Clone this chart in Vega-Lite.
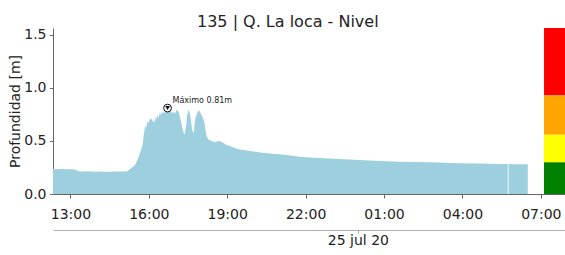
{
  "$schema": "https://vega.github.io/schema/vega-lite/v6.json",
  "autosize": {"type": "none"},
  "padding": {"left": 53, "top": 28, "right": 0, "bottom": 61},
  "width": 512,
  "height": 166,
  "config": {
    "font": "DejaVu Sans",
    "view": {"stroke": null},
    "locale": {
      "time": {
        "dateTime": "%A, %e de %B de %Y, %X",
        "date": "%d/%m/%Y",
        "time": "%H:%M:%S",
        "periods": ["AM", "PM"],
        "days": ["domingo", "lunes", "martes", "miércoles", "jueves", "viernes", "sábado"],
        "shortDays": ["dom", "lun", "mar", "mié", "jue", "vie", "sáb"],
        "months": ["enero", "febrero", "marzo", "abril", "mayo", "junio", "julio", "agosto", "septiembre", "octubre", "noviembre", "diciembre"],
        "shortMonths": ["ene", "feb", "mar", "abr", "may", "jun", "jul", "ago", "sep", "oct", "nov", "dic"]
      }
    },
    "axis": {
      "grid": false,
      "domainColor": "#666666",
      "tickColor": "#666666",
      "labelColor": "#222222",
      "titleColor": "#222222",
      "labelFont": "DejaVu Sans",
      "titleFont": "DejaVu Sans",
      "labelFontSize": 14,
      "titleFontSize": 14,
      "titleFontWeight": "normal"
    }
  },
  "datasets": {
    "nivel": [
      {"t": "2020-07-24T12:20", "v": 0.235},
      {"t": "2020-07-24T12:30", "v": 0.234},
      {"t": "2020-07-24T12:40", "v": 0.236},
      {"t": "2020-07-24T12:50", "v": 0.233},
      {"t": "2020-07-24T13:00", "v": 0.234},
      {"t": "2020-07-24T13:10", "v": 0.230},
      {"t": "2020-07-24T13:15", "v": 0.222},
      {"t": "2020-07-24T13:20", "v": 0.214},
      {"t": "2020-07-24T13:30", "v": 0.212},
      {"t": "2020-07-24T13:40", "v": 0.215},
      {"t": "2020-07-24T13:50", "v": 0.213},
      {"t": "2020-07-24T14:00", "v": 0.210},
      {"t": "2020-07-24T14:10", "v": 0.211},
      {"t": "2020-07-24T14:20", "v": 0.209},
      {"t": "2020-07-24T14:30", "v": 0.210},
      {"t": "2020-07-24T14:40", "v": 0.212},
      {"t": "2020-07-24T14:50", "v": 0.211},
      {"t": "2020-07-24T15:00", "v": 0.213},
      {"t": "2020-07-24T15:05", "v": 0.212},
      {"t": "2020-07-24T15:10", "v": 0.215},
      {"t": "2020-07-24T15:15", "v": 0.228},
      {"t": "2020-07-24T15:20", "v": 0.245},
      {"t": "2020-07-24T15:25", "v": 0.262},
      {"t": "2020-07-24T15:30", "v": 0.285},
      {"t": "2020-07-24T15:35", "v": 0.33},
      {"t": "2020-07-24T15:38", "v": 0.37},
      {"t": "2020-07-24T15:41", "v": 0.40},
      {"t": "2020-07-24T15:44", "v": 0.44},
      {"t": "2020-07-24T15:46", "v": 0.47},
      {"t": "2020-07-24T15:48", "v": 0.55},
      {"t": "2020-07-24T15:50", "v": 0.60},
      {"t": "2020-07-24T15:52", "v": 0.64},
      {"t": "2020-07-24T15:54", "v": 0.62},
      {"t": "2020-07-24T15:56", "v": 0.67},
      {"t": "2020-07-24T15:58", "v": 0.69},
      {"t": "2020-07-24T16:00", "v": 0.66},
      {"t": "2020-07-24T16:02", "v": 0.71},
      {"t": "2020-07-24T16:04", "v": 0.70},
      {"t": "2020-07-24T16:06", "v": 0.72},
      {"t": "2020-07-24T16:08", "v": 0.68},
      {"t": "2020-07-24T16:10", "v": 0.70},
      {"t": "2020-07-24T16:12", "v": 0.67},
      {"t": "2020-07-24T16:14", "v": 0.69},
      {"t": "2020-07-24T16:16", "v": 0.73},
      {"t": "2020-07-24T16:18", "v": 0.71},
      {"t": "2020-07-24T16:20", "v": 0.74},
      {"t": "2020-07-24T16:22", "v": 0.72},
      {"t": "2020-07-24T16:24", "v": 0.76},
      {"t": "2020-07-24T16:26", "v": 0.74},
      {"t": "2020-07-24T16:28", "v": 0.77},
      {"t": "2020-07-24T16:30", "v": 0.75},
      {"t": "2020-07-24T16:32", "v": 0.78},
      {"t": "2020-07-24T16:35", "v": 0.76},
      {"t": "2020-07-24T16:38", "v": 0.79},
      {"t": "2020-07-24T16:40", "v": 0.77},
      {"t": "2020-07-24T16:43", "v": 0.81},
      {"t": "2020-07-24T16:46", "v": 0.78},
      {"t": "2020-07-24T16:49", "v": 0.79},
      {"t": "2020-07-24T16:52", "v": 0.76},
      {"t": "2020-07-24T16:55", "v": 0.78},
      {"t": "2020-07-24T16:58", "v": 0.76},
      {"t": "2020-07-24T17:01", "v": 0.77},
      {"t": "2020-07-24T17:04", "v": 0.79},
      {"t": "2020-07-24T17:07", "v": 0.785},
      {"t": "2020-07-24T17:10", "v": 0.75},
      {"t": "2020-07-24T17:13", "v": 0.70},
      {"t": "2020-07-24T17:16", "v": 0.64},
      {"t": "2020-07-24T17:19", "v": 0.59},
      {"t": "2020-07-24T17:22", "v": 0.56},
      {"t": "2020-07-24T17:24", "v": 0.60},
      {"t": "2020-07-24T17:26", "v": 0.66},
      {"t": "2020-07-24T17:28", "v": 0.74},
      {"t": "2020-07-24T17:31", "v": 0.79},
      {"t": "2020-07-24T17:33", "v": 0.78},
      {"t": "2020-07-24T17:36", "v": 0.72},
      {"t": "2020-07-24T17:38", "v": 0.65},
      {"t": "2020-07-24T17:40", "v": 0.60},
      {"t": "2020-07-24T17:43", "v": 0.575},
      {"t": "2020-07-24T17:45", "v": 0.65},
      {"t": "2020-07-24T17:47", "v": 0.72},
      {"t": "2020-07-24T17:50", "v": 0.75},
      {"t": "2020-07-24T17:53", "v": 0.78},
      {"t": "2020-07-24T17:56", "v": 0.785},
      {"t": "2020-07-24T17:59", "v": 0.76},
      {"t": "2020-07-24T18:02", "v": 0.74},
      {"t": "2020-07-24T18:05", "v": 0.71},
      {"t": "2020-07-24T18:08", "v": 0.67},
      {"t": "2020-07-24T18:10", "v": 0.60},
      {"t": "2020-07-24T18:13", "v": 0.54},
      {"t": "2020-07-24T18:16", "v": 0.52},
      {"t": "2020-07-24T18:19", "v": 0.51},
      {"t": "2020-07-24T18:25", "v": 0.50},
      {"t": "2020-07-24T18:31", "v": 0.49},
      {"t": "2020-07-24T18:37", "v": 0.495},
      {"t": "2020-07-24T18:42", "v": 0.50},
      {"t": "2020-07-24T18:48", "v": 0.49},
      {"t": "2020-07-24T18:53", "v": 0.475},
      {"t": "2020-07-24T18:58", "v": 0.462},
      {"t": "2020-07-24T19:05", "v": 0.455},
      {"t": "2020-07-24T19:20", "v": 0.43},
      {"t": "2020-07-24T19:30", "v": 0.42},
      {"t": "2020-07-24T19:45", "v": 0.41},
      {"t": "2020-07-24T20:00", "v": 0.40},
      {"t": "2020-07-24T20:20", "v": 0.39},
      {"t": "2020-07-24T20:45", "v": 0.38},
      {"t": "2020-07-24T21:00", "v": 0.375},
      {"t": "2020-07-24T21:20", "v": 0.365},
      {"t": "2020-07-24T21:46", "v": 0.352},
      {"t": "2020-07-24T22:10", "v": 0.345},
      {"t": "2020-07-24T22:32", "v": 0.34},
      {"t": "2020-07-24T23:15", "v": 0.33},
      {"t": "2020-07-25T00:04", "v": 0.32},
      {"t": "2020-07-25T00:50", "v": 0.312},
      {"t": "2020-07-25T01:36", "v": 0.305},
      {"t": "2020-07-25T02:10", "v": 0.302},
      {"t": "2020-07-25T02:45", "v": 0.30},
      {"t": "2020-07-25T03:20", "v": 0.295},
      {"t": "2020-07-25T03:54", "v": 0.29},
      {"t": "2020-07-25T04:40", "v": 0.287},
      {"t": "2020-07-25T05:26", "v": 0.283},
      {"t": "2020-07-25T05:44", "v": 0.282},
      {"t": "2020-07-25T05:45", "v": null},
      {"t": "2020-07-25T05:46", "v": 0.282},
      {"t": "2020-07-25T06:00", "v": 0.281},
      {"t": "2020-07-25T06:15", "v": 0.280},
      {"t": "2020-07-25T06:30", "v": 0.281}
    ],
    "maximo": [
      {"t": "2020-07-24T16:43", "v": 0.81, "etiqueta": "Máximo 0.81m"}
    ],
    "umbrales": [
      {"desde": "2020-07-25T07:07:20", "hasta": "2020-07-25T07:55:30", "lo": 0, "hi": 0.3, "c": "#008000"},
      {"desde": "2020-07-25T07:07:20", "hasta": "2020-07-25T07:55:30", "lo": 0.3, "hi": 0.56, "c": "#ffff00"},
      {"desde": "2020-07-25T07:07:20", "hasta": "2020-07-25T07:55:30", "lo": 0.56, "hi": 0.93, "c": "#ffa500"},
      {"desde": "2020-07-25T07:07:20", "hasta": "2020-07-25T07:55:30", "lo": 0.93, "hi": 1.565, "c": "#ff0000"}
    ]
  },
  "title": {
    "text": "135 | Q. La loca - Nivel",
    "fontSize": 16,
    "fontWeight": "normal",
    "color": "#222222",
    "anchor": "start",
    "frame": "group",
    "baseline": "alphabetic",
    "offset": 3,
    "dx": 144,
    "dy": 18
  },
  "resolve": {"axis": {"x": "independent"}},
  "layer": [
    {
      "data": {"name": "nivel"},
      "mark": {"type": "area", "color": "#9dcfdf", "invalid": "break-paths-show-domains"},
      "encoding": {
        "x": {
          "field": "t",
          "type": "temporal",
          "scale": {"domain": [
            {"year": 2020, "month": 7, "date": 24, "hours": 12, "minutes": 20},
            {"year": 2020, "month": 7, "date": 25, "hours": 7, "minutes": 55, "seconds": 30}
          ]},
          "axis": {
            "title": null,
            "orient": "bottom",
            "format": "%H:%M",
            "values": [
              {"year": 2020, "month": 7, "date": 24, "hours": 13},
              {"year": 2020, "month": 7, "date": 24, "hours": 16},
              {"year": 2020, "month": 7, "date": 24, "hours": 19},
              {"year": 2020, "month": 7, "date": 24, "hours": 22},
              {"year": 2020, "month": 7, "date": 25, "hours": 1},
              {"year": 2020, "month": 7, "date": 25, "hours": 4},
              {"year": 2020, "month": 7, "date": 25, "hours": 7}
            ],
            "tickSize": 4,
            "labelPadding": 9,
            "labelFlush": false,
            "labelOverlap": false
          }
        },
        "y": {
          "field": "v",
          "type": "quantitative",
          "scale": {"domain": [0, 1.565], "nice": false, "zero": true},
          "axis": {
            "title": "Profundidad [m]",
            "values": [0, 0.5, 1, 1.5],
            "format": ".1f",
            "tickSize": 3.5,
            "labelPadding": 3.5,
            "titlePadding": 1,
            "labelFlush": false
          }
        }
      }
    },
    {
      "data": {"name": "umbrales"},
      "mark": {"type": "rect"},
      "encoding": {
        "x": {
          "field": "desde",
          "type": "temporal",
          "axis": {
            "title": null,
            "orient": "bottom",
            "offset": 36,
            "format": "%d %b %y",
            "values": [{"year": 2020, "month": 7, "date": 25, "hours": 0}],
            "domainColor": "#b0b0b0",
            "tickColor": "#b0b0b0",
            "tickSize": 3,
            "labelPadding": 0,
            "labelFontSize": 14
          }
        },
        "x2": {"field": "hasta"},
        "y": {"field": "lo", "type": "quantitative"},
        "y2": {"field": "hi"},
        "color": {"field": "c", "type": "nominal", "scale": null, "legend": null}
      }
    },
    {
      "data": {"name": "maximo"},
      "mark": {"type": "point", "shape": "circle", "filled": true, "fill": "#ffffff", "stroke": "#111111", "strokeWidth": 1, "size": 60, "opacity": 1},
      "encoding": {
        "x": {"field": "t", "type": "temporal", "axis": null},
        "y": {"field": "v", "type": "quantitative"}
      }
    },
    {
      "data": {"name": "maximo"},
      "mark": {"type": "point", "shape": "triangle-down", "filled": true, "color": "#111111", "size": 22, "opacity": 1},
      "encoding": {
        "x": {"field": "t", "type": "temporal", "axis": null},
        "y": {"field": "v", "type": "quantitative"}
      }
    },
    {
      "data": {"name": "maximo"},
      "mark": {"type": "text", "align": "left", "baseline": "alphabetic", "dx": 5, "dy": -5, "fontSize": 8, "color": "#222222"},
      "encoding": {
        "x": {"field": "t", "type": "temporal", "axis": null},
        "y": {"field": "v", "type": "quantitative"},
        "text": {"field": "etiqueta", "type": "nominal"}
      }
    }
  ]
}
